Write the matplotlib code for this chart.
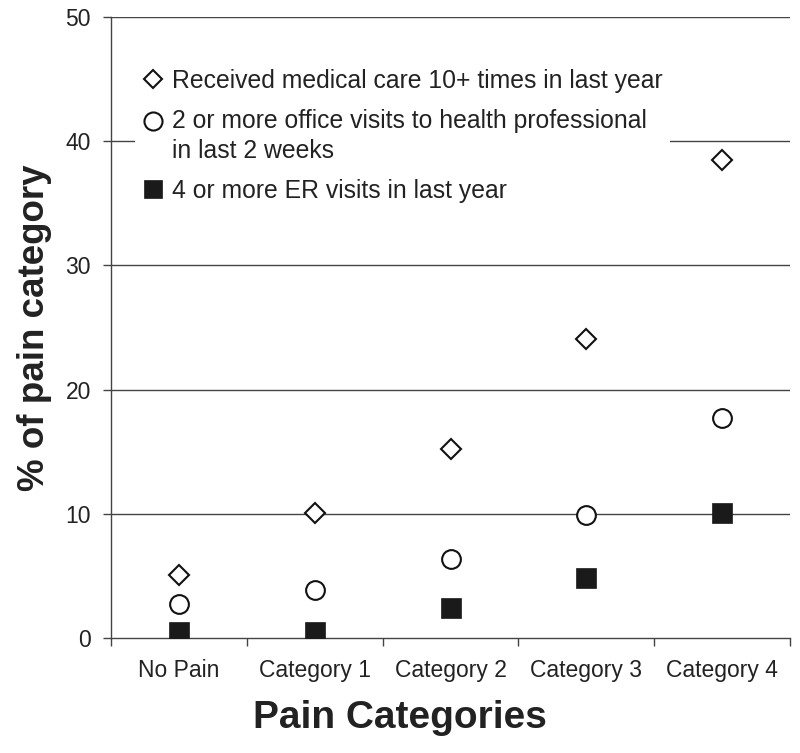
import matplotlib
matplotlib.use("Agg")
import matplotlib.pyplot as plt
import numpy as np

categories = ["No Pain", "Category 1", "Category 2", "Category 3", "Category 4"]
medical_care_10plus = [5.1, 10.1, 15.2, 24.1, 38.5]
office_visits_2plus = [2.7, 3.9, 6.4, 9.9, 17.7]
er_visits_4plus = [0.5, 0.5, 2.4, 4.8, 10.1]
series_labels = [
    "Received medical care 10+ times in last year",
    "2 or more office visits to health professional\nin last 2 weeks",
    "4 or more ER visits in last year",
]
y_ticks = [0, 10, 20, 30, 40, 50]

plt.rcParams['font.family'] = ['Liberation Sans', 'DejaVu Sans']
TXT = '#222222'
LINE = '#444444'
DPI = 100
LS = 1.27

fig = plt.figure(figsize=(8.0, 7.53), dpi=DPI)
ax = fig.add_axes([0.139, 0.1527, 0.8485, 0.8247])

x = np.arange(len(categories))
ax.set_xlim(-0.5, len(categories) - 0.5)
ax.set_ylim(0, 50)

for yv in y_ticks[1:]:
    ax.axhline(yv, color=LINE, lw=1.0, zorder=1)

h1, = ax.plot(x, medical_care_10plus, linestyle='none', marker='D', ms=10,
              mfc='white', mec='#111111', mew=1.5, zorder=3, label=series_labels[0])
h2, = ax.plot(x, office_visits_2plus, linestyle='none', marker='o', ms=13.5,
              mfc='white', mec='#111111', mew=1.5, zorder=3, label=series_labels[1])
h3, = ax.plot(x, er_visits_4plus, linestyle='none', marker='s', ms=14,
              mfc='#1a1a1a', mec='#1a1a1a', mew=0.5, zorder=3, label=series_labels[2])

for s in ['top', 'right']:
    ax.spines[s].set_visible(False)
for s in ['left', 'bottom']:
    ax.spines[s].set_color(LINE)
    ax.spines[s].set_linewidth(1.0)

ax.set_yticks(y_ticks)
ax.set_yticklabels([str(v) for v in y_ticks])
ax.tick_params(axis='y', direction='out', length=5.5, width=1.0, color=LINE,
               labelsize=16.5, labelcolor=TXT, pad=9)

ax.set_xticks(x)
ax.set_xticklabels(categories)
ax.set_xticks(np.arange(len(categories) + 1) - 0.5, minor=True)
ax.tick_params(axis='x', which='major', length=0, labelsize=16.5, labelcolor=TXT, pad=15)
ax.tick_params(axis='x', which='minor', direction='out', length=6, width=1.0, color=LINE)

ax.set_xlabel("Pain Categories", fontsize=28, fontweight='bold', color=TXT, labelpad=13)
ax.xaxis.label.set_x((400 - 111) / 679)
ax.set_ylabel("% of pain category", fontsize=26.5, fontweight='bold', color=TXT, labelpad=10)

leg = ax.legend(handles=[h1, h2, h3], loc='upper left', bbox_to_anchor=(0.035, 0.928),
                fontsize=17.8, frameon=True, facecolor='white', edgecolor='none',
                framealpha=1.0, fancybox=False, borderpad=0.3, handletextpad=0.3,
                handlelength=0.9, labelspacing=0.66, borderaxespad=0, numpoints=1)
leg.set_zorder(2)
for t in leg.get_texts():
    t.set_color(TXT)
    t.set_linespacing(LS)
for h, s in zip(leg.legend_handles, [9.5, 13, 13]):
    h.set_markersize(s)

# align circle marker with the first line of its two-line label
fig.canvas.draw()
renderer = fig.canvas.get_renderer()
txt2 = leg.get_texts()[1]
bb = txt2.get_window_extent(renderer)
line_h = bb.height / (1 + LS)
line1_center = bb.y1 - line_h / 2.0
lh = leg.legend_handles[1]
yd = np.asarray(lh.get_ydata(), dtype=float)
cur = lh.get_transform().transform((0, yd[0]))[1]
lh.set_ydata(yd + (line1_center - cur) * 72.0 / DPI)

fig.savefig("out.png", dpi=DPI)
